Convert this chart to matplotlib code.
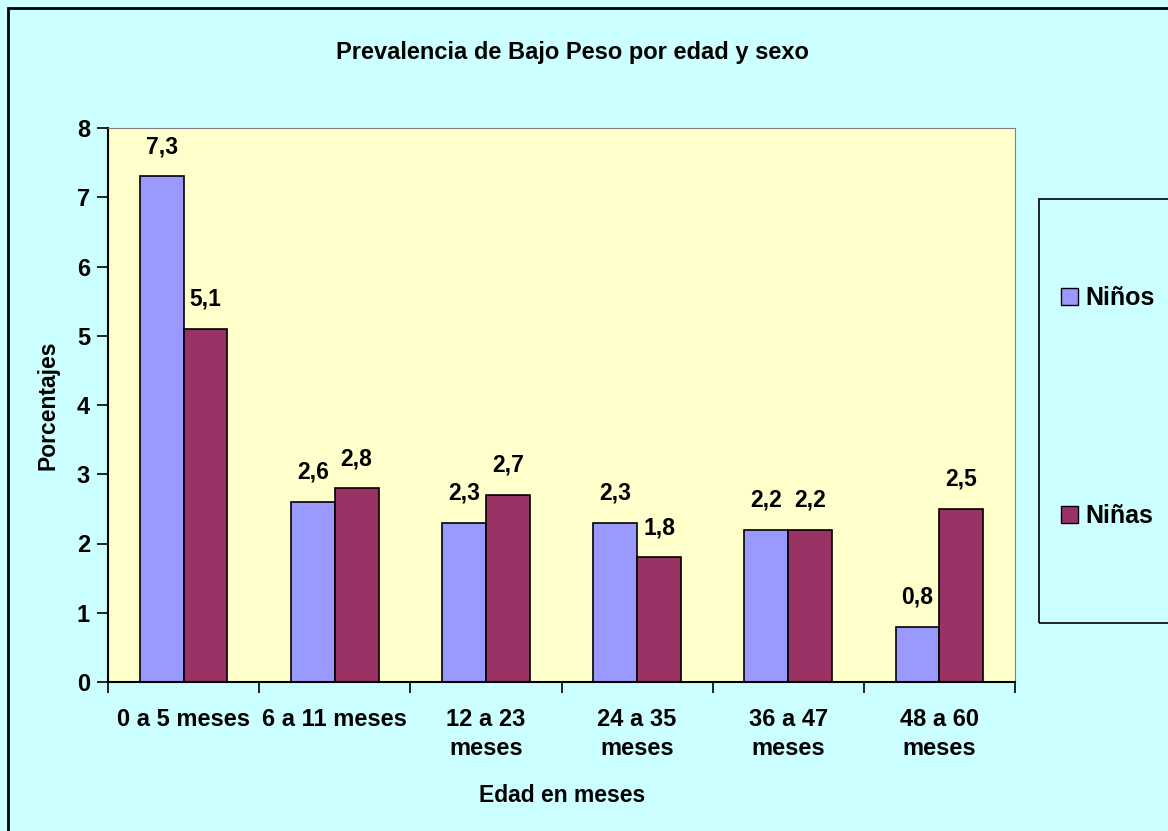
import matplotlib.pyplot as plt
from matplotlib.patches import Patch, Rectangle
import numpy as np

plt.rcParams['font.family'] = ['Liberation Sans', 'DejaVu Sans']
plt.rcParams['font.weight'] = 'bold'

categorias = ["0 a 5 meses", "6 a 11 meses", "12 a 23\nmeses", "24 a 35\nmeses",
              "36 a 47\nmeses", "48 a 60\nmeses"]
ninos = [7.3, 2.6, 2.3, 2.3, 2.2, 0.8]
ninas = [5.1, 2.8, 2.7, 1.8, 2.2, 2.5]

W, H = 1168, 831
fig = plt.figure(figsize=(W / 100, H / 100), dpi=100, facecolor='#CCFFFF')

# outer chart frame
fig.patches.append(Rectangle((8 / W, -0.1), 1.2, 1 - 8 / H + 0.1, transform=fig.transFigure,
                             fill=False, edgecolor='black', linewidth=2))

ax = fig.add_axes([108 / W, (H - 682) / H, (1015 - 108) / W, (682 - 128) / H])
ax.set_facecolor('#FFFFCC')

x = np.arange(len(categorias))
w = 0.29
b1 = ax.bar(x - w / 2, ninos, w, color='#9999FF', edgecolor='black', linewidth=1.2, label='Niños')
b2 = ax.bar(x + w / 2, ninas, w, color='#993366', edgecolor='black', linewidth=1.2, label='Niñas')

for bars, vals in ((b1, ninos), (b2, ninas)):
    ax.bar_label(bars, labels=[f"{v:.1f}".replace('.', ',') for v in vals],
                 padding=13, fontsize=16.5, fontweight='bold')

ax.set_xlim(-0.5, len(categorias) - 0.5)
ax.set_ylim(0, 8)
ax.set_yticks(range(0, 9))
ax.tick_params(axis='y', labelsize=17, length=8, width=1.2, direction='out', pad=5)
ax.set_xticks(np.arange(len(categorias) + 1) - 0.5)
ax.set_xticklabels([])
ax.tick_params(axis='x', which='major', length=8, width=1.2, direction='out')
ax.set_xticks(x, minor=True)
ax.set_xticklabels(categorias, minor=True, fontsize=17, fontweight='bold', linespacing=1.3)
ax.tick_params(axis='x', which='minor', length=0, pad=19)

for s in ('top', 'right'):
    ax.spines[s].set_color('#808080')
for s in ('left', 'bottom'):
    ax.spines[s].set_linewidth(1.5)

fig.text(572 / W, 1 - 53 / H, "Prevalencia de Bajo Peso por edad y sexo",
         ha='center', va='center', fontsize=17, fontweight='bold')
fig.text(562 / W, 1 - 796 / H, "Edad en meses", ha='center', va='center',
         fontsize=16.5, fontweight='bold')
fig.text(48 / W, 1 - 405 / H, "Porcentajes", ha='center', va='center', rotation=90,
         fontsize=16.5, fontweight='bold')

# legend box
fig.patches.append(Rectangle((1039 / W, 1 - 623 / H), 0.2, (623 - 199) / H,
                             transform=fig.transFigure, fill=False, edgecolor='black', linewidth=1.2))
handles = [Patch(facecolor='#9999FF', edgecolor='black'), Patch(facecolor='#993366', edgecolor='black')]
fig.legend(handles, ['Niños', 'Niñas'], loc='center left', bbox_to_anchor=(1061 / W, 1 - 407 / H),
           frameon=False, borderpad=0, borderaxespad=0, handlelength=0.68, handleheight=0.68,
           handletextpad=0.3, labelspacing=7.76, prop={'weight': 'bold', 'size': 18})

fig.savefig('out.png', dpi=100, facecolor=fig.get_facecolor())
